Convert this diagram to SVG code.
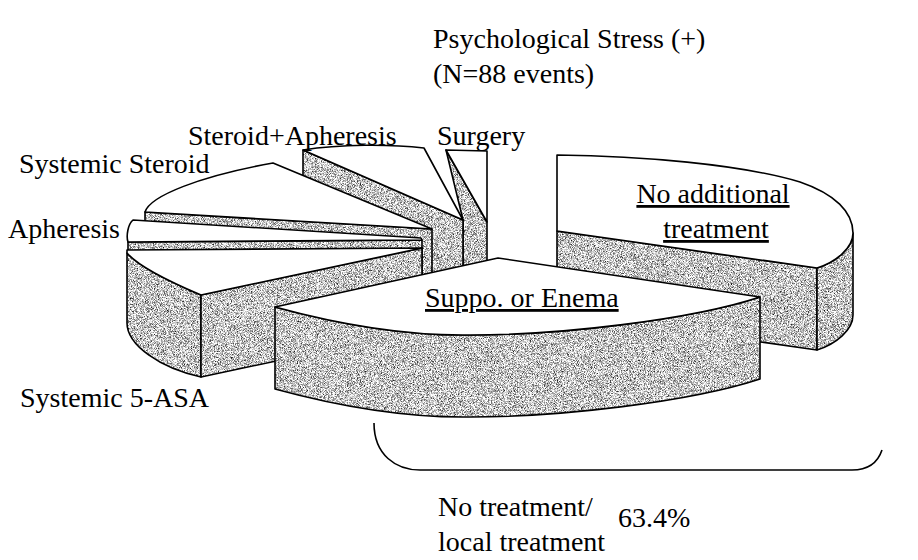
<svg xmlns="http://www.w3.org/2000/svg" width="918" height="560" viewBox="0 0 918 560">
<defs>
  <filter id="noise" x="0" y="0" width="918" height="560" filterUnits="userSpaceOnUse" color-interpolation-filters="sRGB">
    <feTurbulence type="fractalNoise" baseFrequency="1.3" numOctaves="2" seed="4" result="t"/>
    <feColorMatrix in="t" type="matrix" values="1 0 0 0 0  1 0 0 0 0  1 0 0 0 0  0 0 0 0 1" result="g"/>
    <feComponentTransfer in="g">
      <feFuncR type="linear" slope="2.0" intercept="-0.22"/>
      <feFuncG type="linear" slope="2.0" intercept="-0.22"/>
      <feFuncB type="linear" slope="2.0" intercept="-0.22"/>
    </feComponentTransfer>
  </filter>
  <pattern id="grain" patternUnits="userSpaceOnUse" x="0" y="0" width="918" height="560">
    <rect width="918" height="560" fill="#000" filter="url(#noise)"/>
  </pattern>
</defs>
<style>
  .g { fill: url(#grain); stroke: #000; stroke-width: 1.6; stroke-linejoin: round; }
  .w { fill: #fff; stroke: #000; stroke-width: 1.6; stroke-linejoin: round; }
  .t { font-family: "Liberation Serif", "Times New Roman", serif; font-size: 28px; fill: #000; }
  .u { text-decoration: underline; }
  .c { fill: none; stroke: #000; stroke-width: 1.6; }
</style>
<rect width="918" height="560" fill="#fff"/>

<g id="title">
  <text class="t" x="433" y="48">Psychological Stress (+)</text>
  <text class="t" x="433" y="83">(N=88 events)</text>
</g>

<g id="slice-no-additional">
  <path class="g" d="M557,231 L817,268 L817,350 L557,313 Z"/>
  <path class="g" d="M853,233 C853,248 836,262 817,268 L817,350 C836,344 853,330 853,315 Z"/>
  <path class="w" d="M557,231 L557,155 C640,156 740,164 800,182 C835,194 853,212 853,233 C853,248 836,262 817,268 Z"/>
  <text class="t u" x="713" y="203" text-anchor="middle">No additional</text>
  <text class="t u" x="716" y="238" text-anchor="middle">treatment</text>
</g>

<g id="slice-surgery">
  <path class="g" d="M446,150 L487,222 L487,304 L463,304 L463,220 Z"/>
  <path class="w" d="M446,150 L487,151 L487,222 Z"/>
  <text class="t" x="437" y="145">Surgery</text>
</g>

<g id="slice-steroid-apheresis">
  <path class="g" d="M303,150 L463,220 L463,302 L303,232 Z"/>
  <path class="w" d="M303,150 C340,144 390,144 424,148 L463,220 Z"/>
  <text class="t" x="188" y="145">Steroid+Apheresis</text>
</g>

<g id="slice-systemic-steroid">
  <path class="g" d="M145,212 L432,229 L432,311 L145,294 Z"/>
  <path class="w" d="M145,212 C150,196 200,176 273,163 L432,229 Z"/>
  <text class="t" x="19" y="173">Systemic Steroid</text>
</g>

<g id="slice-apheresis">
  <path class="g" d="M128,242 L422,240 L422,322 L128,324 Z"/>
  <path class="w" d="M421,238 L133,220 C128,224 126,236 128,242 L422,240 Z"/>
  <text class="t" x="8" y="238">Apheresis</text>
</g>

<g id="slice-systemic-5asa">
  <path class="g" d="M127,253 L127,323 C127,345 160,368 201,377 L201,295 C175,284 140,268 127,253 Z"/>
  <path class="g" d="M201,295 L422,248 L422,330 L201,377 Z"/>
  <path class="w" d="M422,248 L127,250 L127,253 C140,268 175,284 201,295 Z"/>
  <text class="t" x="20" y="407">Systemic 5-ASA</text>
</g>

<g id="slice-suppo-enema">
  <path class="g" d="M275,307 C330,322 400,336 470,335 C560,335 690,320 760,297 L760,379 C690,402 560,417 470,417 C400,418 330,404 275,389 Z"/>
  <path class="w" d="M498,258 L760,297 C690,320 560,335 470,335 C400,336 330,322 275,307 Z"/>
  <text class="t u" x="425" y="307">Suppo. or Enema</text>
</g>

<g id="connectors">
  <path class="c" d="M374,423 C374,455 396,470 420,470 L852,470 C868,470 878,462 882,450"/>
</g>

<g id="summary">
  <text class="t" x="438" y="516">No treatment/</text>
  <text class="t" x="438" y="551">local treatment</text>
  <text class="t" x="618" y="527">63.4%</text>
</g>
</svg>
